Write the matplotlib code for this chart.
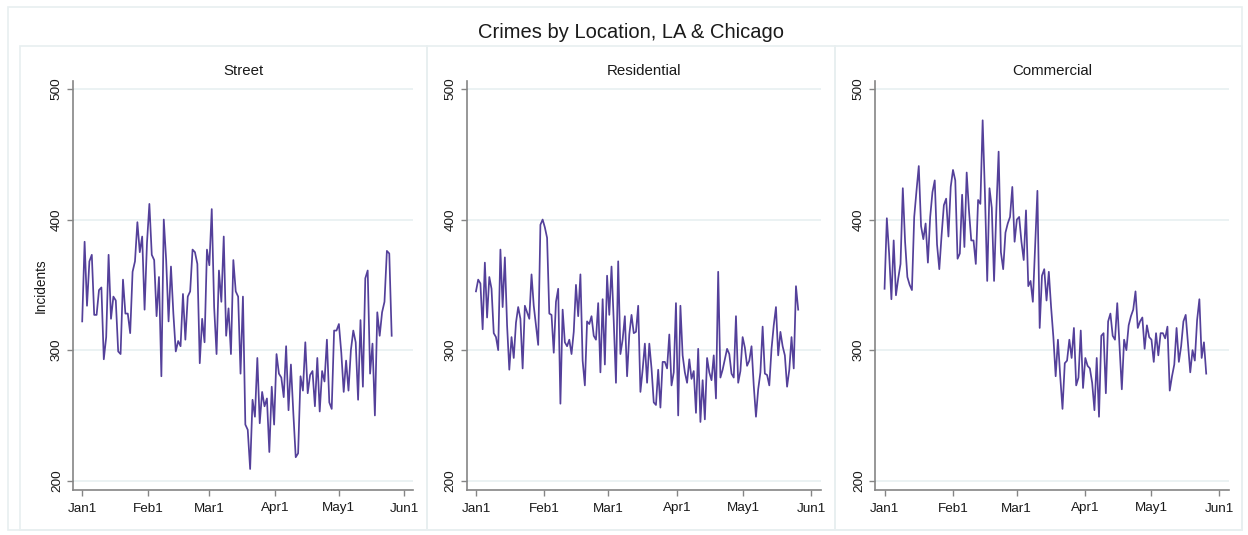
import matplotlib
matplotlib.use("Agg")
import matplotlib.pyplot as plt
import matplotlib.dates as mdates
from matplotlib.patches import Rectangle
import pandas as pd

plt.rcParams['font.family'] = ['Liberation Sans', 'DejaVu Sans']

# ---------------- data ----------------
title = "Crimes by Location, LA & Chicago"
panel_titles = ["Street", "Residential", "Commercial"]
y_label = "Incidents"

start_date = "2020-01-01"
end_date = "2020-05-26"

street = [322, 383, 334, 368, 373, 327, 327, 346, 348, 293, 310, 373, 324, 341, 338, 299,
          297, 354, 328, 328, 313, 360, 368, 398, 375, 387, 331, 382, 412, 373, 369, 326,
          356, 280, 400, 369, 322, 364, 328, 299, 307, 303, 343, 308, 341, 345, 377, 375,
          366, 290, 324, 306, 377, 365, 408, 333, 297, 361, 337, 387, 311, 332, 297, 369,
          345, 341, 282, 341, 243, 239, 209, 262, 249, 294, 244, 268, 257, 263, 222, 272,
          243, 297, 282, 279, 264, 303, 254, 289, 252, 218, 221, 280, 269, 306, 267, 281,
          284, 257, 294, 253, 284, 276, 308, 260, 255, 315, 315, 320, 298, 268, 292, 269,
          300, 315, 306, 262, 323, 272, 355, 361, 282, 305, 250, 329, 311, 329, 337, 376,
          374, 311]

residential = [345, 354, 351, 316, 367, 325, 356, 347, 313, 310, 300, 377, 333, 371, 319, 285,
               310, 294, 321, 333, 324, 286, 334, 329, 324, 358, 334, 319, 304, 396, 400, 394,
               386, 328, 327, 298, 337, 347, 259, 331, 306, 303, 308, 297, 314, 350, 326, 358,
               292, 273, 322, 320, 326, 311, 308, 336, 283, 339, 289, 357, 327, 364, 322, 275,
               368, 297, 308, 326, 280, 312, 327, 313, 314, 334, 268, 285, 305, 275, 305, 286,
               260, 258, 285, 256, 291, 291, 286, 312, 273, 283, 336, 250, 334, 296, 283, 275,
               293, 278, 284, 252, 301, 245, 277, 247, 294, 283, 277, 296, 263, 360, 279, 285,
               293, 301, 297, 282, 279, 326, 275, 284, 310, 302, 288, 292, 303, 273, 249, 270,
               283, 318, 282, 281, 273, 301, 319, 333, 296, 314, 303, 296, 272, 285, 310, 286,
               349, 331]

commercial = [347, 401, 374, 339, 384, 342, 355, 366, 424, 383, 356, 350, 346, 402, 422, 441,
              395, 385, 397, 367, 402, 421, 430, 381, 362, 388, 411, 416, 387, 425, 438, 430,
              370, 374, 419, 379, 436, 407, 384, 384, 366, 415, 412, 476, 420, 353, 424, 409,
              353, 407, 452, 375, 362, 390, 397, 402, 425, 383, 400, 402, 383, 369, 407, 349,
              353, 337, 379, 422, 317, 357, 362, 338, 360, 333, 310, 280, 308, 280, 255, 290,
              292, 308, 294, 317, 273, 279, 315, 271, 294, 288, 286, 275, 254, 294, 249, 311,
              313, 267, 322, 328, 311, 308, 336, 303, 270, 308, 300, 319, 326, 331, 345, 317,
              322, 325, 301, 319, 310, 308, 291, 313, 296, 313, 313, 309, 318, 269, 280, 289,
              317, 291, 303, 322, 327, 305, 283, 300, 292, 323, 339, 294, 306, 282]

series = [street, residential, commercial]

x_tick_dates = ["2020-01-01", "2020-02-01", "2020-03-01", "2020-04-01", "2020-05-01", "2020-06-01"]
x_tick_labels = ["Jan1", "Feb1", "Mar1", "Apr1", "May1", "Jun1"]
y_ticks = [200, 300, 400, 500]

# ---------------- style ----------------
W, H = 1248, 535
line_color = "#54409a"
grid_color = "#e9f1f2"
axis_color = "#858585"
frame_color = "#e8eff0"
text_color = "#1a1a1a"

fig = plt.figure(figsize=(W / 100, H / 100), dpi=100)
fig.patch.set_facecolor("white")


def fx(px):
    return px / W


def fy(py):
    return 1 - py / H


# outer frame and panel frames
fig.patches.append(Rectangle((fx(7.5), fy(530)), fx(1241.5) - fx(7.5), fy(7) - fy(530),
                             transform=fig.transFigure, fill=False, edgecolor=frame_color,
                             lw=1.2, zorder=0))
panel_edges = [(19.5, 427), (427, 835), (835, 1241.5)]
for (l, r) in panel_edges:
    fig.patches.append(Rectangle((fx(l), fy(530)), fx(r) - fx(l), fy(46) - fy(530),
                                 transform=fig.transFigure, fill=False, edgecolor=frame_color,
                                 lw=1.2, zorder=0))

axes_px = [(73.3, 413.3), (466.7, 820.7), (875.3, 1228.7)]
ax_top, ax_bot = 81, 490

xmin = mdates.date2num(pd.Timestamp("2020-01-01")) - 4.2
xmax = mdates.date2num(pd.Timestamp("2020-06-01")) + 4.2

for i, (vals, ptitle, (l, r)) in enumerate(zip(series, panel_titles, axes_px)):
    ax = fig.add_axes([fx(l), fy(ax_bot), fx(r) - fx(l), fy(ax_top) - fy(ax_bot)])
    dates = pd.date_range(start_date, end_date, periods=len(vals))
    ax.plot(dates, vals, color=line_color, lw=1.25, zorder=3)
    ax.set_xlim(xmin, xmax)
    ax.set_ylim(192.9, 506.1)
    ax.set_yticks(y_ticks)
    ax.set_yticklabels([str(v) for v in y_ticks], rotation=90, va="center")
    ax.set_xticks(pd.to_datetime(x_tick_dates))
    ax.set_xticklabels(x_tick_labels)
    for yv in y_ticks:
        ax.axhline(yv, color=grid_color, lw=1.3, zorder=1)
    for s in ["top", "right"]:
        ax.spines[s].set_visible(False)
    for s in ["left", "bottom"]:
        ax.spines[s].set_color(axis_color)
        ax.spines[s].set_linewidth(1.2)
    ax.tick_params(axis="both", direction="out", length=4, width=1.0, color=axis_color,
                   labelsize=9.7, labelcolor=text_color)
    ax.tick_params(axis="x", pad=5)
    ax.tick_params(axis="y", pad=3.5)
    ax.set_facecolor("none")
    cx = (l + r) / 2
    fig.text(fx(cx), fy(70.7), ptitle, ha="center", va="center", fontsize=10.8, color=text_color)

fig.text(fx(40.7), fy(285.5), y_label, rotation=90, ha="center", va="center",
         fontsize=9.8, color=text_color)
fig.text(fx(631), fy(32), title, ha="center", va="center", fontsize=14.5, color=text_color)

fig.savefig("out.png", dpi=100, facecolor="white")
